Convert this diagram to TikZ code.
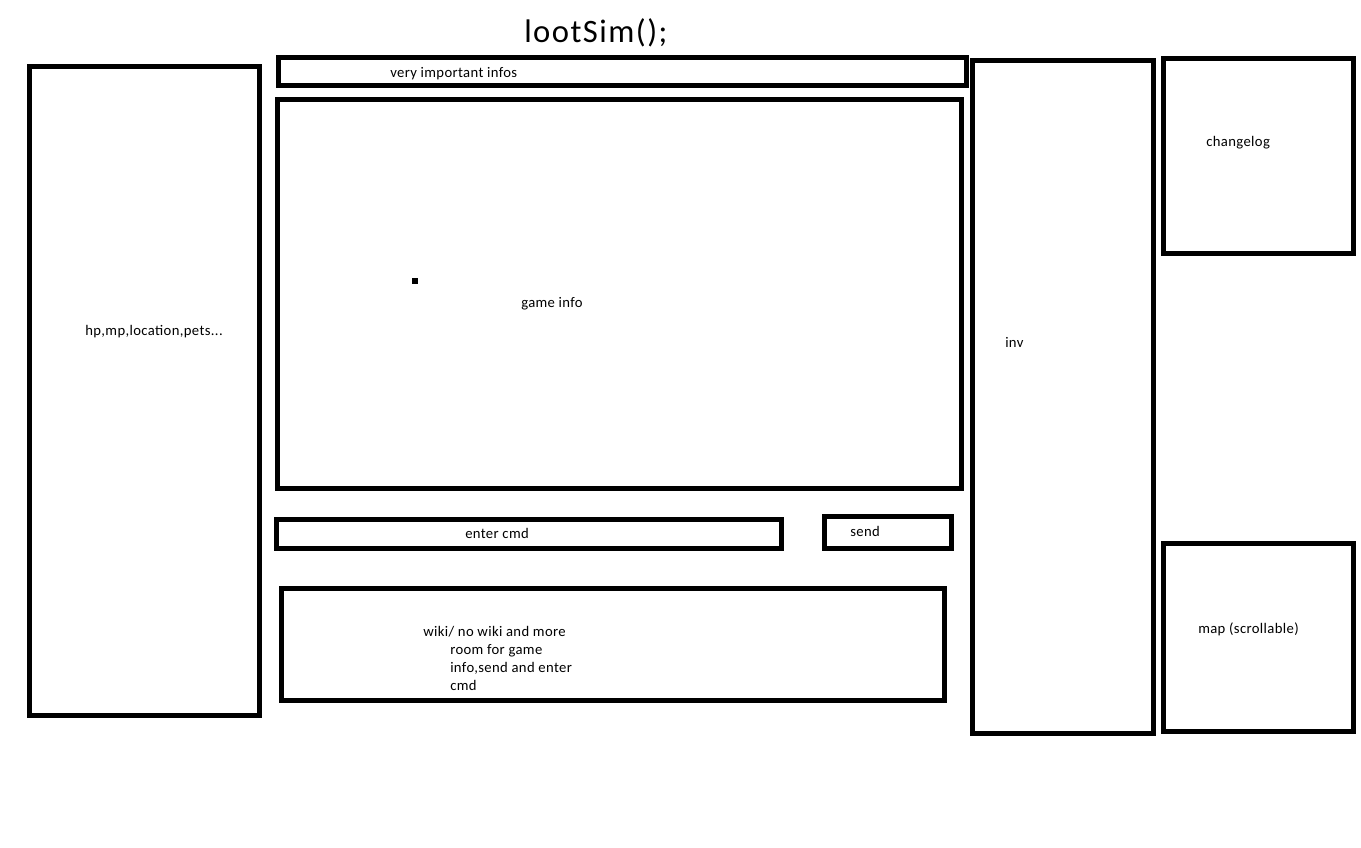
\documentclass[tikz,border=0pt]{standalone}
\usepackage{fontspec}
\setmainfont{Carlito}
\newfontfamily\lblfont[LetterSpace=2.5]{Carlito}
\newfontfamily\titlefont[LetterSpace=4.5]{Carlito}
\begin{document}
\begin{tikzpicture}[x=0.75pt,y=-0.75pt,
  panel/.style={draw=black,line width=3.75pt,line join=miter},
  lbl/.style={anchor=base west,inner sep=0pt,font=\lblfont\fontsize{11pt}{13.5pt}\selectfont},
  title/.style={anchor=base west,inner sep=0pt,font=\titlefont\fontsize{24.5pt}{28pt}\selectfont}]
\useasboundingbox[fill=white] (0,0) rectangle (1361,848);
% panels
\draw[panel] (29.5,66.5) rectangle (259.5,715);
\draw[panel] (278.5,57.5) rectangle (966,86);
\draw[panel] (277,100) rectangle (961.5,489);
\draw[panel] (276.5,519.5) rectangle (781.5,548.5);
\draw[panel] (824.5,517) rectangle (951,549);
\draw[panel] (281.5,588.5) rectangle (944.5,700.5);
\draw[panel] (972.5,60.5) rectangle (1153.5,733);
\draw[panel] (1163.5,59) rectangle (1353.5,253.5);
\draw[panel] (1163.5,543.5) rectangle (1353.5,731.5);
\fill[black] (411.5,278) rectangle (417.5,284);
% texts
\node[title] (t) at (524,42.5) {lootSim();};
\node[lbl] (vii) at (390,78) {very important infos};
\node[lbl] (hp) at (85,336) {hp,mp,location,pets...};
\node[lbl] (gi) at (521,308) {game info};
\node[lbl] (inv) at (1005,348) {inv};
\node[lbl] (cl) at (1206,147) {changelog};
\node[lbl] (ec) at (465,539) {enter cmd};
\node[lbl] (sd) at (850,537) {send};
\node[lbl] (map) at (1198,633) {map (scrollable)};
\node[lbl] (w1) at (423,636) {wiki/ no wiki and more};
\node[lbl] (w2) at (450,654) {room for game};
\node[lbl] (w3) at (450,672) {info,send and enter};
\node[lbl] (w4) at (450,690) {cmd};
\end{tikzpicture}
\end{document}
